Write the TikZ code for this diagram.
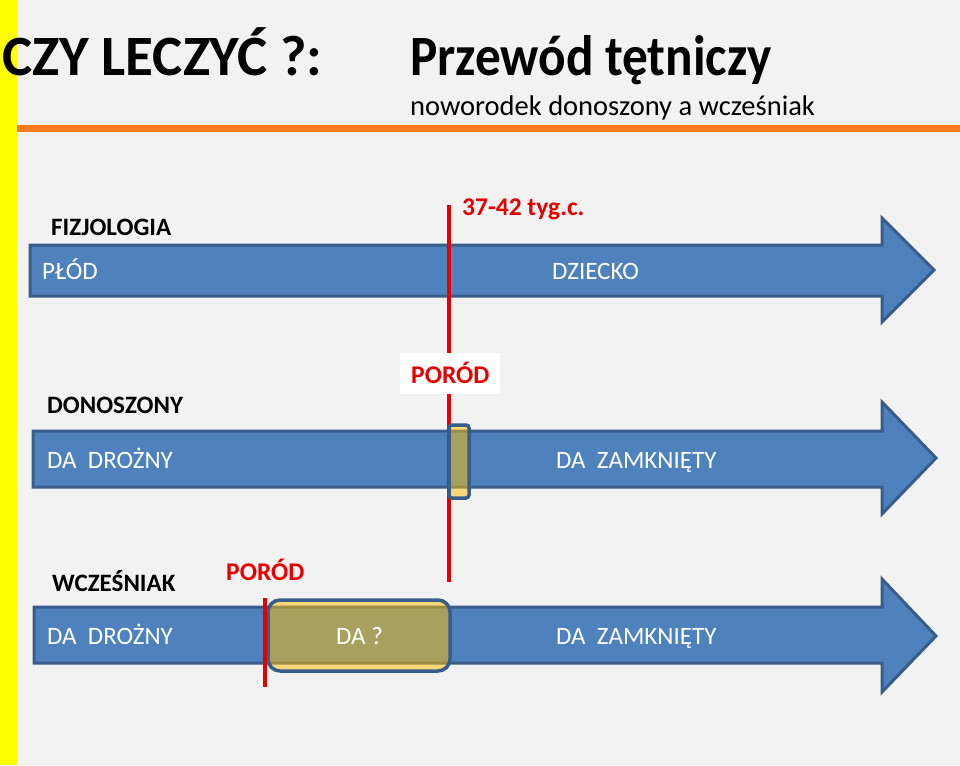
\documentclass[tikz,border=0pt]{standalone}
\usepackage{fontspec}
\setmainfont{Carlito}
\usepackage{xcolor}
\usepackage{tikz}

\definecolor{bgGrey}{RGB}{242,242,242}
\definecolor{barYellow}{RGB}{255,255,0}
\definecolor{lineOrange}{RGB}{252,122,30}
\definecolor{arrowFill}{RGB}{79,129,189}
\definecolor{arrowEdge}{RGB}{56,93,138}
\definecolor{markRed}{RGB}{232,0,0}
\definecolor{boxGold}{RGB}{255,192,0}

\tikzset{
  timearrow/.style={fill=arrowFill,draw=arrowEdge,line width=3pt,line join=miter},
  goldbox/.style={fill=boxGold,fill opacity=0.5,draw=arrowEdge,draw opacity=1,line width=3.5pt},
  redmark/.style={draw=markRed,line width=4.5pt},
  rowlabel/.style={anchor=base west,inner sep=0pt,font=\fontsize{25}{29}\selectfont\bfseries},
  onarrow/.style={anchor=base west,inner sep=0pt,text=white,font=\fontsize{25}{30}\selectfont},
  redlabel/.style={anchor=base west,inner sep=0pt,text=markRed,font=\fontsize{25.5}{30}\selectfont\bfseries}
}

\begin{document}
\begin{tikzpicture}[x=1pt,y=-1pt]
    % Page
    \useasboundingbox (0,0) rectangle (960,765);
    \fill[bgGrey] (0,0) rectangle (960,765);
    \fill[barYellow] (0,0) rectangle (17,765);
    \fill[lineOrange] (17,125) rectangle (960,132);

    % Heading
    \node[anchor=base west,inner sep=0pt,font=\fontsize{57}{60}\selectfont\bfseries]
      (pytanie) at (2,76) {CZY LECZYĆ ?:};
    \node[anchor=base west,inner sep=0pt,font=\fontsize{57}{60}\selectfont\bfseries]
      (tytul) at (410,76) {\scalebox{0.9}[1]{Przewód tętniczy}};
    \node[anchor=base west,inner sep=0pt,font=\fontsize{28.5}{32}\selectfont]
      (podtytul) at (410,116) {noworodek donoszony a wcześniak};

    % Arrows
    \draw[timearrow]
      (30,245) -- (882,245) -- (882,218) -- (934,270) -- (882,322) -- (882,296) -- (30,296) -- cycle;
    \draw[timearrow]
      (33,431) -- (882,431) -- (882,402) -- (936,458) -- (882,514) -- (882,487) -- (33,487) -- cycle;
    \draw[timearrow]
      (34,607) -- (882,607) -- (882,579) -- (936,636) -- (882,692) -- (882,663) -- (34,663) -- cycle;

    % Birth line at term
    \coordinate (T1) at (449,205);
    \coordinate (T2) at (449,582);
    \draw[redmark] (T1) -- (T2);
    \node[fill=white,minimum width=100pt,minimum height=41pt,inner sep=0pt]
      (porodBox) at (450,373.5) {};
    \node[redlabel] (porod) at (411,383) {PORÓD};

    % Ductus windows
    \draw[goldbox,rounded corners=3pt] (449,425) rectangle (469,498);
    \draw[goldbox,rounded corners=12pt] (268,600) rectangle (450,671);

    % Preterm birth line
    \coordinate (P1) at (265,598);
    \coordinate (P2) at (265,687);
    \draw[redmark] (P1) -- (P2);

    % Row labels
    \node[redlabel] (tydzien) at (462,215) {37-42 tyg.c.};
    \node[rowlabel] (fizjologia) at (51,235) {FIZJOLOGIA};
    \node[rowlabel] (donoszony) at (47,413) {DONOSZONY};
    \node[rowlabel] (wczesniak) at (52,591) {WCZEŚNIAK};
    \node[redlabel] (porodWcz) at (226,580) {PORÓD};

    % Texts on arrows
    \node[onarrow] (plod) at (42,279) {PŁÓD};
    \node[onarrow] (dziecko) at (552,279) {DZIECKO};
    \node[onarrow] (droznyA) at (47,468) {DA\ \ DROŻNY};
    \node[onarrow] (zamknietyA) at (556,468) {DA\ \ ZAMKNIĘTY};
    \node[onarrow] (droznyB) at (47,644) {DA\ \ DROŻNY};
    \node[onarrow] (pytajnik) at (336,644) {DA ?};
    \node[onarrow] (zamknietyB) at (556,644) {DA\ \ ZAMKNIĘTY};

\end{tikzpicture}
\end{document}
